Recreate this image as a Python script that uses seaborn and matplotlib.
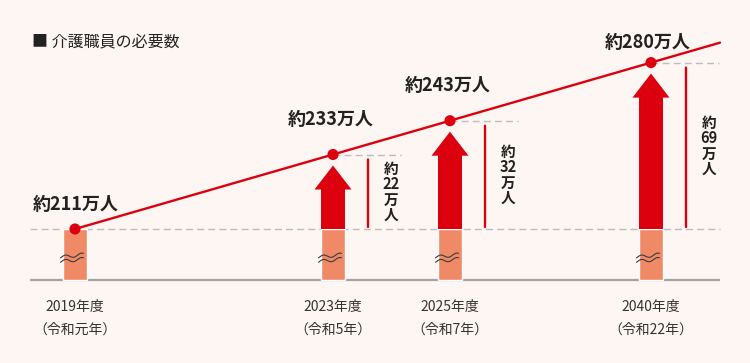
import numpy as np
import matplotlib
matplotlib.use("Agg")
import matplotlib.pyplot as plt
import matplotlib.transforms as mtransforms
from matplotlib.patches import ArrowStyle
import seaborn as sns

# data
years = ["2019年度", "2023年度", "2025年度", "2040年度"]
eras = ["（令和元年）", "（令和5年）", "（令和7年）", "（令和22年）"]
workers = [211, 233, 243, 280]  # 万人
title = "■ 介護職員の必要数"

# layout (x in pixels, the chart is not drawn to scale)
x_slots = [75, 333, 450, 651]
label_offsets = [(1, 25), (-2, 35), (-2, 35), (-3, 20)]  # pixels above each point
line_left, line_right = 30, 720

# non-linear y scale used by the original design: value -> height in px
val_anchor = [-400, 0, 211, 233, 243, 280, 400]
px_anchor = [-14, 83, 134, 208.5, 242.3, 300.4, 489]


def forward(v):
    return np.interp(v, val_anchor, px_anchor)


def inverse(h):
    return np.interp(h, px_anchor, val_anchor)


BG = "#fdf6f2"
RED = "#dc000f"
SALMON = "#ef8966"
PX = 0.72  # points per pixel at dpi 100

sns.set_theme(style="white")
plt.rcParams["font.family"] = ["Noto Sans CJK JP", "DejaVu Sans"]

fig = plt.figure(figsize=(7.5, 3.63), dpi=100, facecolor=BG)
ax = fig.add_axes([0, 0, 1, 1])
ax.set_facecolor(BG)
ax.set_yscale("function", functions=(forward, inverse))

base = workers[0]

# base bars (0 .. 211万人) with break marks
ax.bar(x_slots, [base] * len(x_slots), width=24, bottom=0, color=SALMON, zorder=2)
t = np.linspace(-11.5, 11.5, 80)
wave = 1.6 * np.sin(2 * np.pi * t / 16 + 4.12) + 0.12 * t
for x in x_slots:
    for dy in (-2.2, 2.2):
        tr = mtransforms.Affine2D().translate(-3, dy) + mtransforms.ScaledTranslation(
            x, base * 0.43, ax.transData
        )
        ax.plot(t, wave, color="#3a3a3a", lw=0.8, transform=tr, zorder=3)

# axis line and reference dashes
ax.hlines(0, line_left, line_right, color="#a3a3a3", lw=1.6, zorder=1)
ax.hlines(base, line_left, line_right, color="#bdbdbd", lw=1,
          linestyles=(0, (5, 3)), zorder=1)
for x, v in zip(x_slots[1:], workers[1:]):
    ax.hlines(v, x, x + 68, color="#bdbdbd", lw=1, linestyles=(0, (5, 3)), zorder=1)

# trend line (straight on screen, extended to the right edge)
h0, h1 = forward(workers[0]), forward(workers[-1])
h_end = h1 + (h1 - h0) / (x_slots[-1] - x_slots[0]) * (line_right - x_slots[-1])
line_x = x_slots + [line_right]
line_y = workers + [float(inverse(h_end))]
sns.lineplot(x=line_x, y=line_y, ax=ax, color=RED, linewidth=1.7, zorder=4)
sns.scatterplot(x=x_slots, y=workers, ax=ax, color=RED, s=64,
                edgecolor="none", zorder=5)

# growth arrows, brackets and vertical labels
arrow = ArrowStyle.Simple(head_length=24 * PX, head_width=37 * PX, tail_width=24 * PX)
for x, v in zip(x_slots[1:], workers[1:]):
    ax.annotate("", xy=(x, v), xytext=(x, base),
                arrowprops=dict(arrowstyle=arrow, mutation_scale=1, shrinkA=0,
                                shrinkB=11 * PX, color=RED, lw=0), zorder=3)
    ax.annotate("", xy=(x + 35, v), xytext=(x + 35, base),
                arrowprops=dict(arrowstyle="-", shrinkA=2 * PX, shrinkB=5 * PX,
                                color=RED, lw=1.7), zorder=3)
    mid = inverse((forward(base) + forward(v)) / 2)
    ax.text(x + 58, mid, f"約\n{v - base}\n万\n人", ha="center", va="center",
            fontsize=10.5, fontweight="bold", color="#222222", linespacing=0.95)

# value labels
for x, v, (dx, dy) in zip(x_slots, workers, label_offsets):
    ax.annotate(f"約{v}万人", xy=(x, v), xytext=(dx, dy), textcoords="offset pixels",
                ha="center", va="center", fontsize=13, fontweight="bold",
                color="#222222")

# year labels
xtr = ax.get_xaxis_transform()
for x, yr, era in zip(x_slots, years, eras):
    ax.text(x, 1 - 307 / 363, yr, transform=xtr, ha="center", va="center",
            fontsize=10, color="#333333")
    ax.text(x, 1 - 330 / 363, era, transform=xtr, ha="center", va="center",
            fontsize=10, color="#333333")

fig.text(32 / 750, 1 - 43 / 363, title, ha="left", va="center", fontsize=11.5,
         color="#222222")

ax.set_xlim(0, 750)
ax.set_ylim(inverse(0), inverse(363))
ax.axis("off")

fig.savefig("out.png", dpi=100, facecolor=fig.get_facecolor())
